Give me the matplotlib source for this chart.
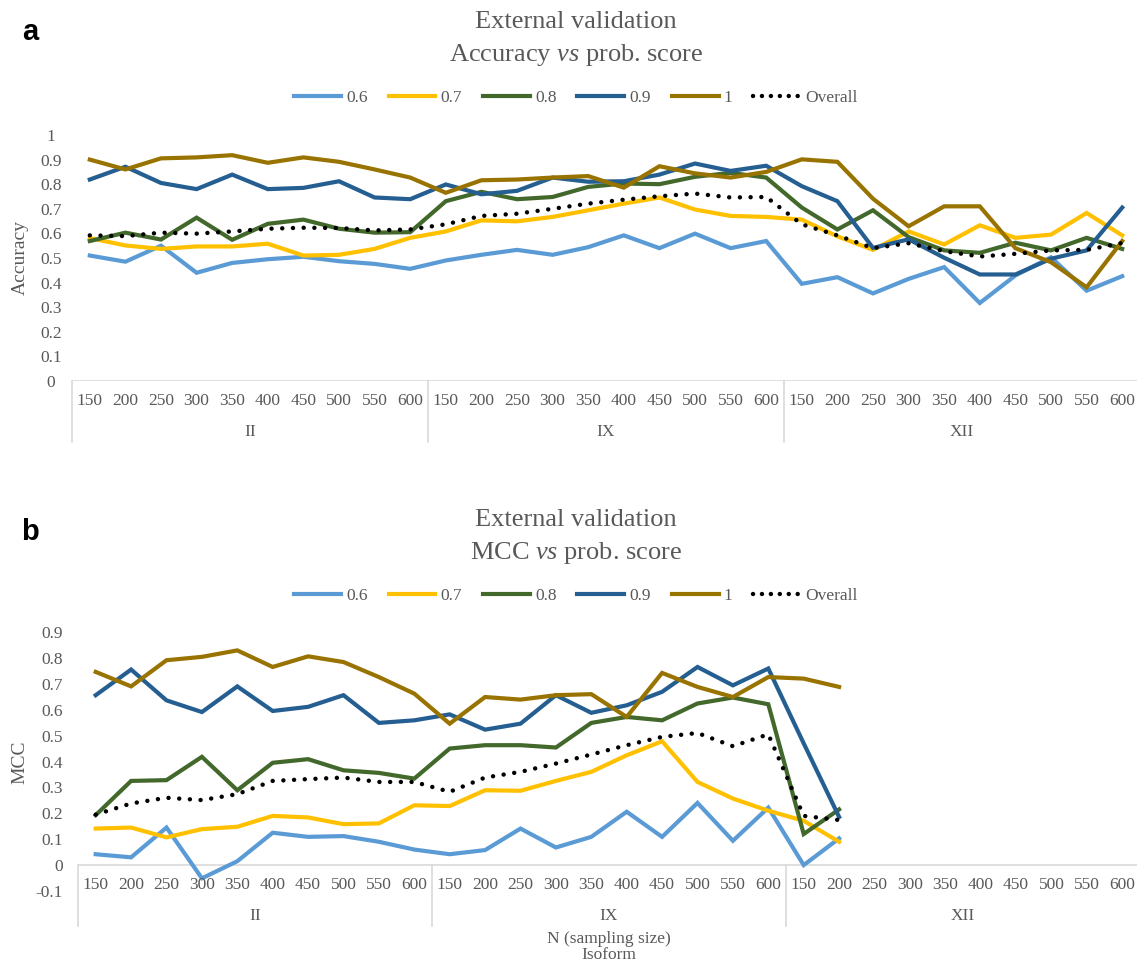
import numpy as np
import matplotlib
matplotlib.use('Agg')
import matplotlib.pyplot as plt
from matplotlib.lines import Line2D

plt.rcParams['font.family'] = ['Liberation Serif', 'DejaVu Serif']
plt.rcParams['mathtext.fontset'] = 'custom'
plt.rcParams['mathtext.rm'] = 'Liberation Serif'
plt.rcParams['mathtext.it'] = 'Liberation Serif:italic'

# 샘플 크기와 isoform 그룹
sizes = [150, 200, 250, 300, 350, 400, 450, 500, 550, 600]
isoforms = ['II', 'IX', 'XII']
series = ['0.6', '0.7', '0.8', '0.9', '1', 'Overall']
colors = ['#5B9BD5', '#FFC000', '#43682B', '#255E91', '#997300', 'black']

# (a) Accuracy
acc_06 = [0.51, 0.485, 0.55, 0.44, 0.48, 0.495, 0.505, 0.487, 0.476, 0.456,
          0.49, 0.513, 0.533, 0.513, 0.544, 0.592, 0.54, 0.599, 0.54, 0.569,
          0.395, 0.422, 0.356, 0.415, 0.463, 0.317, 0.429, 0.503, 0.367, 0.426]
acc_07 = [0.581, 0.551, 0.537, 0.547, 0.547, 0.558, 0.51, 0.513, 0.537, 0.582,
          0.608, 0.653, 0.649, 0.667, 0.694, 0.721, 0.746, 0.697, 0.671, 0.667,
          0.656, 0.588, 0.533, 0.608, 0.555, 0.633, 0.582, 0.595, 0.683, 0.592]
acc_08 = [0.569, 0.603, 0.575, 0.664, 0.574, 0.639, 0.656, 0.619, 0.603, 0.605,
          0.731, 0.769, 0.739, 0.748, 0.789, 0.803, 0.80, 0.83, 0.846, 0.827,
          0.705, 0.616, 0.694, 0.585, 0.531, 0.521, 0.562, 0.531, 0.582, 0.537]
acc_09 = [0.819, 0.871, 0.805, 0.78, 0.839, 0.78, 0.785, 0.812, 0.746, 0.739,
          0.799, 0.759, 0.773, 0.827, 0.81, 0.812, 0.839, 0.884, 0.854, 0.875,
          0.792, 0.731, 0.541, 0.576, 0.501, 0.433, 0.433, 0.497, 0.531, 0.705]
acc_10 = [0.90, 0.86, 0.905, 0.909, 0.918, 0.887, 0.909, 0.891, 0.86, 0.827,
          0.765, 0.816, 0.819, 0.827, 0.833, 0.786, 0.873, 0.844, 0.827, 0.85,
          0.901, 0.891, 0.741, 0.629, 0.71, 0.71, 0.54, 0.483, 0.381, 0.569]
acc_all = [0.592, 0.589, 0.603, 0.599, 0.608, 0.619, 0.623, 0.622, 0.612, 0.616,
           0.637, 0.671, 0.68, 0.70, 0.721, 0.737, 0.751, 0.762, 0.746, 0.748,
           0.637, 0.592, 0.54, 0.56, 0.528, 0.506, 0.517, 0.531, 0.533, 0.561]

# (b) MCC - XII 250~600 값 없음
nan = np.nan
mcc_06 = [0.042, 0.03, 0.145, -0.051, 0.015, 0.125, 0.109, 0.112, 0.09, 0.06,
          0.042, 0.058, 0.141, 0.068, 0.109, 0.206, 0.109, 0.24, 0.094, 0.222,
          0.0, 0.103] + [nan] * 8
mcc_07 = [0.141, 0.145, 0.107, 0.139, 0.148, 0.19, 0.184, 0.158, 0.161, 0.231,
          0.228, 0.289, 0.287, 0.325, 0.36, 0.424, 0.478, 0.321, 0.257, 0.21,
          0.171, 0.09] + [nan] * 8
mcc_08 = [0.193, 0.325, 0.328, 0.418, 0.289, 0.395, 0.409, 0.366, 0.356, 0.334,
          0.45, 0.463, 0.463, 0.454, 0.549, 0.572, 0.559, 0.624, 0.647, 0.621,
          0.12, 0.215] + [nan] * 8
mcc_09 = [0.656, 0.755, 0.636, 0.591, 0.69, 0.595, 0.611, 0.656, 0.549, 0.559,
          0.582, 0.523, 0.546, 0.656, 0.588, 0.617, 0.669, 0.765, 0.694, 0.759,
          0.47, 0.186] + [nan] * 8
mcc_10 = [0.746, 0.69, 0.791, 0.804, 0.829, 0.765, 0.806, 0.784, 0.726, 0.662,
          0.546, 0.649, 0.639, 0.656, 0.66, 0.572, 0.742, 0.688, 0.649, 0.726,
          0.72, 0.688] + [nan] * 8
mcc_all = [0.195, 0.238, 0.26, 0.251, 0.274, 0.325, 0.332, 0.338, 0.321, 0.321,
           0.283, 0.338, 0.36, 0.392, 0.427, 0.463, 0.495, 0.51, 0.459, 0.505,
           0.19, 0.174] + [nan] * 8

W, H = 1137, 961
fig = plt.figure(figsize=(W / 100, H / 100), dpi=100)
gray = '#595959'
axis_gray = '#D9D9D9'


def px_axes(left, right, top, bottom):
    return fig.add_axes([left / W, 1 - bottom / H, (right - left) / W, (bottom - top) / H])


def draw_panel(ax, data, ylim, yticks, ytick_labels, px_unit, ha, pad):
    x = np.arange(len(sizes) * len(isoforms))
    for vals, c, name in zip(data, colors, series):
        if name == 'Overall':
            ax.plot(x, vals, color=c, lw=3.2, linestyle=(0, (0.01, 2.4)),
                    dash_capstyle='round', zorder=5)
        else:
            ax.plot(x, vals, color=c, lw=3, solid_joinstyle='miter', zorder=3)
    ax.set_xlim(-0.5, len(x) - 0.5)
    ax.set_ylim(*ylim)
    for s in ax.spines.values():
        s.set_visible(False)
    ax.set_xticks([])
    ax.set_yticks(yticks)
    ax.set_yticklabels(ytick_labels)
    ax.tick_params(axis='y', length=0, pad=pad, labelsize=12.5, labelcolor=gray)
    for lab in ax.get_yticklabels():
        lab.set_ha(ha)
    # 0 기준 가로축과 다단계 카테고리 축
    ax.axhline(0, color=axis_gray, lw=1.2, zorder=1)
    drop = 61 / px_unit
    for sx in [-0.5, 9.5, 19.5]:
        ax.plot([sx, sx], [0, -drop], color=axis_gray, lw=1.2, clip_on=False)
    for i, xi in enumerate(x):
        ax.text(xi, -20 / px_unit, str(sizes[i % len(sizes)]), ha='center', va='center',
                fontsize=12.5, color=gray, clip_on=False)
    for g, name in enumerate(isoforms):
        ax.text(g * 10 + 4.5, -51 / px_unit, name, ha='center', va='center',
                fontsize=12.5, color=gray, clip_on=False)


def add_legend(y):
    handles = []
    for c, name in zip(colors, series):
        if name == 'Overall':
            handles.append(Line2D([], [], color=c, lw=3.2, linestyle=(0, (0.01, 2.0)),
                                  dash_capstyle='round'))
        else:
            handles.append(Line2D([], [], color=c, lw=3))
    leg = fig.legend(handles, series, loc='center', bbox_to_anchor=(576 / W, 1 - y / H),
                     ncol=6, frameon=False, fontsize=12.5, handlelength=2.7,
                     handletextpad=0.3, columnspacing=1.2, labelcolor=gray)
    return leg


# (a) Accuracy
ax1 = px_axes(72, 1140, 135, 381)
draw_panel(ax1, [acc_06, acc_07, acc_08, acc_09, acc_10, acc_all], (0, 1),
           np.round(np.arange(0, 1.01, 0.1), 1),
           ['0'] + ['%.1f' % v for v in np.arange(0.1, 0.95, 0.1)] + ['1'],
           246, 'center', 15)
fig.text(576 / W, 1 - 22 / H, 'External validation', ha='center', va='center',
         fontsize=19, color=gray)
fig.text(576 / W, 1 - 55 / H, r'Accuracy $\mathit{vs}$ prob. score', ha='center',
         va='center', fontsize=19, color=gray)
add_legend(98)
fig.text(20 / W, 1 - 257 / H, 'Accuracy', rotation=90, ha='center', va='center',
         fontsize=14, color=gray)
fig.text(30 / W, 1 - 32 / H, 'a', ha='center', va='center', fontsize=21,
         fontweight='bold', family='Liberation Sans')

# (b) MCC
ax2 = px_axes(78, 1140, 632, 891)
draw_panel(ax2, [mcc_06, mcc_07, mcc_08, mcc_09, mcc_10, mcc_all], (-0.1, 0.9),
           np.round(np.arange(-0.1, 0.91, 0.1), 1),
           ['-0.1', '0'] + ['%.1f' % v for v in np.arange(0.1, 0.95, 0.1)],
           259, 'right', 11)
fig.text(576 / W, 1 - 520 / H, 'External validation', ha='center', va='center',
         fontsize=19, color=gray)
fig.text(576 / W, 1 - 553 / H, r'MCC $\mathit{vs}$ prob. score', ha='center',
         va='center', fontsize=19, color=gray)
add_legend(596)
fig.text(20 / W, 1 - 762 / H, 'MCC', rotation=90, ha='center', va='center',
         fontsize=14, color=gray)
fig.text(30 / W, 1 - 532 / H, 'b', ha='center', va='center', fontsize=21,
         fontweight='bold', family='Liberation Sans')
fig.text(609 / W, 1 - 939 / H, 'N (sampling size)', ha='center', va='center',
         fontsize=12.5, color=gray)
fig.text(609 / W, 1 - 955 / H, 'Isoform', ha='center', va='center',
         fontsize=12.5, color=gray)

fig.savefig('out.png', dpi=100, facecolor='white')
